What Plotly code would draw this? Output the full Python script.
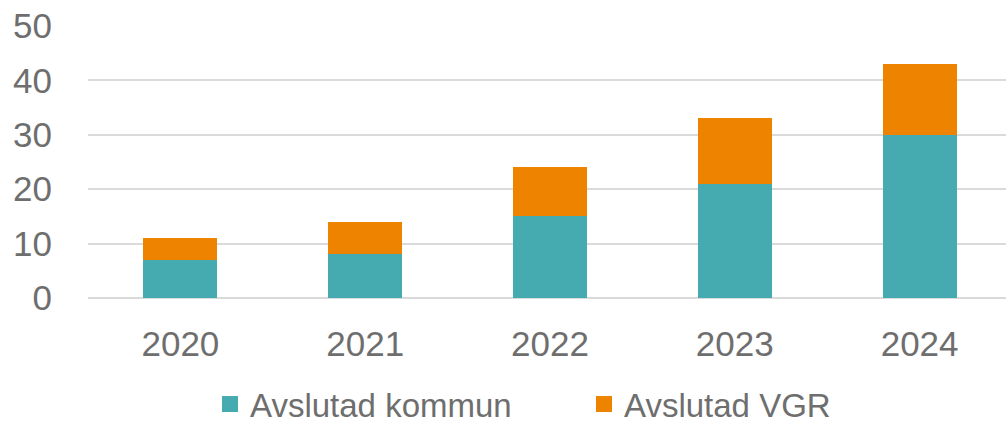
import plotly.graph_objects as go

# Data
years = ["2020", "2021", "2022", "2023", "2024"]
kommun = [7, 8, 15, 21, 30]
vgr = [4, 6, 9, 12, 13]
series_names = ["Avslutad kommun", "Avslutad VGR"]
colors = ["#45ABB0", "#EE8300"]
y_ticks = [0, 10, 20, 30, 40, 50]

text_color = "#6E6E6E"
grid_color = "#DADADA"

fig = go.Figure()
for name, vals, col in zip(series_names, [kommun, vgr], colors):
    fig.add_trace(go.Bar(
        x=years, y=vals, name=name, marker_color=col,
        marker_line_width=0, showlegend=False,
    ))
    # larger square legend swatch
    fig.add_trace(go.Scatter(
        x=[None], y=[None], mode="markers", name=name,
        marker=dict(symbol="square", size=20, color=col),
        showlegend=True,
    ))

fig.update_layout(
    width=1006, height=424,
    margin=dict(l=88, r=0, t=26, b=126, autoexpand=False),
    barmode="stack",
    bargap=0.6,
    plot_bgcolor="white",
    paper_bgcolor="white",
    font=dict(family="Liberation Sans, Arial, sans-serif", color=text_color, size=35),
    legend=dict(
        orientation="h",
        traceorder="normal",
        x=0.1329, xanchor="left",
        y=-0.39, yanchor="middle",
        font=dict(family="Liberation Sans, sans-serif", size=33, color=text_color),
        itemwidth=30,
        entrywidth=329,
        tracegroupgap=0,
    ),
)
fig.update_xaxes(
    type="category",
    range=[-0.5, 4.4675],
    automargin=False,
    showgrid=False, showline=False, zeroline=False,
    ticks="", ticklabelstandoff=22,
    tickfont=dict(size=35, color=text_color),
)
fig.update_yaxes(
    range=[0, 50],
    tickvals=y_ticks,
    automargin=False,
    showgrid=True, gridcolor=grid_color, gridwidth=2,
    zeroline=True, zerolinecolor=grid_color, zerolinewidth=2,
    showline=False, ticks="", ticklabelstandoff=35,
    tickfont=dict(size=35, color=text_color),
)

fig.write_html("out.html")
